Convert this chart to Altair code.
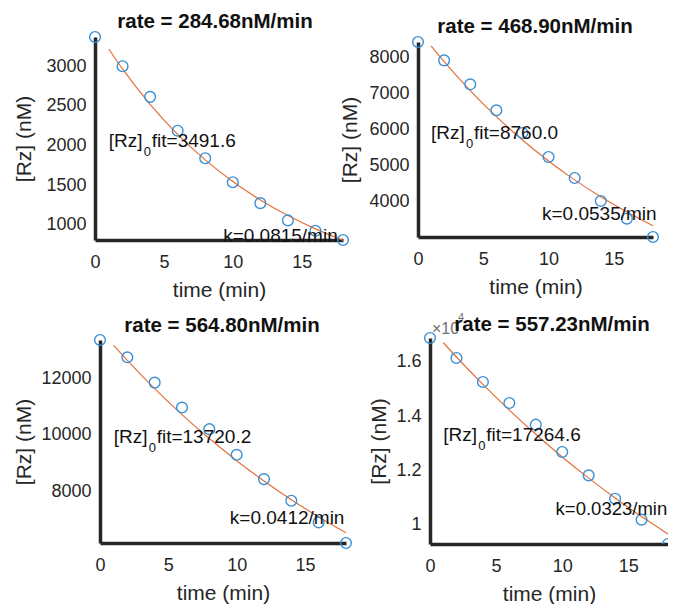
import altair as alt
import pandas as pd

# ---------------- data ----------------
time_points = [0, 2, 4, 6, 8, 10, 12, 14, 16, 18]
rz_panel1 = [3369, 3000, 2614, 2187, 1839, 1537, 1273, 1055, 925, 808]
rz_panel2 = [8414, 7908, 7246, 6529, 5903, 5241, 4662, 4028, 3540, 3034]
rz_panel3 = [13353, 12741, 11847, 10965, 10200, 9294, 8435, 7671, 6906, 6176]
rz_panel4 = [16885, 16148, 15262, 14487, 13688, 12680, 11819, 10958, 10184, 9287]

fit_time = [1, 2, 4, 6, 8, 10, 12, 14, 16, 18]
fit_panel1 = [3218, 2966, 2520, 2141, 1819, 1546, 1313, 1116, 948, 805]
fit_panel2 = [8304, 7871, 7073, 6355, 5710, 5131, 4610, 4142, 3722, 3344]
fit_panel3 = [13166, 12635, 11636, 10716, 9868, 9087, 8368, 7706, 7097, 6536]
fit_panel4 = [16716, 16185, 15172, 14223, 13333, 12499, 11717, 10984, 10297, 9653]

titles = ["rate = 284.68nM/min", "rate = 468.90nM/min",
          "rate = 564.80nM/min", "rate = 557.23nM/min"]
fit_values = ["fit=3491.6", "fit=8760.0", "fit=13720.2", "fit=17264.6"]
k_labels = ["k=0.0815/min", "k=0.0535/min", "k=0.0412/min", "k=0.0323/min"]

x_ticks = [0, 5, 10, 15]
y_ticks = [[1000, 1500, 2000, 2500, 3000],
           [4000, 5000, 6000, 7000, 8000],
           [8000, 10000, 12000],
           [10000, 12000, 14000, 16000]]

# annotation anchor points (time, [Rz])
fit_label_t = [1, 1, 1, 1]
fit_label_rz = [1981, 5749, 9727, 13070]
k_label_t = [9.3, 9.5, 9.5, 9.5]
k_label_rz = [786, 3495, 6860, 10340]

# ---------------- styling / layout ----------------
FONT = "Liberation Sans"
BLUE = "#3a8fd4"
ORANGE = "#e3703a"
AX = "#262626"

# per-panel cell size, pixel ranges, axis offsets, title placement
cells = [
    dict(w=251, h=203, xr=[0, 248], yr=[203, 0], xoff=0, yoff=0, xtp=8,
         ytx=-65, tx=120, ty=-9, clip=False, kfs=19),
    dict(w=250, h=203, xr=[0, 235], yr=[200, 5], xoff=-3, yoff=0, xtp=8,
         ytx=-62, tx=117, ty=-4, clip=False, kfs=19),
    dict(w=251, h=213, xr=[5, 251], yr=[212, 9], xoff=-1, yoff=-5, xtp=8,
         ytx=-70, tx=127, ty=1, clip=False, kfs=19),
    dict(w=250, h=213, xr=[12, 250], yr=[213, 7], xoff=0, yoff=-12, xtp=8,
         ytx=-45, tx=134, ty=0, clip=True, kfs=18.5),
]

all_rz = [rz_panel1, rz_panel2, rz_panel3, rz_panel4]
all_fit = [fit_panel1, fit_panel2, fit_panel3, fit_panel4]


def panel(i):
    c = cells[i]
    vals = all_rz[i]
    pts = pd.DataFrame({"t": time_points, "rz": vals})
    fit = pd.DataFrame({"t": fit_time, "rz": all_fit[i]})

    xs = alt.Scale(domain=[0, 18], range=c["xr"], nice=False, zero=False)
    ys = alt.Scale(domain=[min(vals), max(vals)], range=c["yr"], nice=False, zero=False)

    xaxis = alt.Axis(values=x_ticks, title="time (min)", offset=c["xoff"], grid=False,
                     ticks=False, labelPadding=13, titlePadding=c["xtp"], labelFlush=False,
                     labelOverlap=False, domainColor=AX, domainWidth=3.5,
                     labelFontSize=18, titleFontSize=21, labelColor=AX, titleColor=AX,
                     titleFontWeight="normal", labelFont=FONT, titleFont=FONT)
    yargs = dict(values=y_ticks[i], title="[Rz] (nM)", offset=c["yoff"], grid=False,
                 ticks=False, labelPadding=9, labelFlush=False,
                 labelOverlap=False, domainColor=AX, domainWidth=3.5,
                 labelFontSize=18, titleFontSize=21, labelColor=AX, titleColor=AX,
                 titleFontWeight="normal", labelFont=FONT, titleFont=FONT,
                 titleX=c["ytx"], titleBaseline="alphabetic")
    if i == 3:
        yargs["labelExpr"] = "format(datum.value / 10000, '.2~g')"
    else:
        yargs["format"] = "d"
    yaxis = alt.Axis(**yargs)

    X = alt.X("t:Q", scale=xs, axis=xaxis)
    Y = alt.Y("rz:Q", scale=ys, axis=yaxis)

    line = alt.Chart(fit).mark_line(color=ORANGE, strokeWidth=1.2, clip=c["clip"],
                                    interpolate="monotone").encode(x=X, y=Y)
    points = alt.Chart(pts).mark_point(shape="circle", filled=False, color=BLUE,
                                       size=115, strokeWidth=1.4, opacity=1,
                                       clip=c["clip"]).encode(x=X, y=Y)

    ann = pd.DataFrame({"t": [fit_label_t[i]], "rz": [fit_label_rz[i]],
                        "a": ["[Rz]"], "b": ["0"], "c": [fit_values[i]]})
    kdf = pd.DataFrame({"t": [k_label_t[i]], "rz": [k_label_rz[i]], "k": [k_labels[i]]})

    txt_kw = dict(align="left", baseline="alphabetic", font=FONT, color="#111111")
    t1 = alt.Chart(ann).mark_text(fontSize=19, **txt_kw).encode(x=X, y=Y, text="a:N")
    t2 = alt.Chart(ann).mark_text(fontSize=13, dx=35, dy=9, **txt_kw).encode(x=X, y=Y, text="b:N")
    t3 = alt.Chart(ann).mark_text(fontSize=19, dx=43, **txt_kw).encode(x=X, y=Y, text="c:N")
    t4 = alt.Chart(kdf).mark_text(fontSize=c["kfs"], **txt_kw).encode(x=X, y=Y, text="k:N")

    layers = [line, points, t1, t2, t3, t4]

    if i == 3:
        ex = pd.DataFrame({"t": [0], "rz": [max(vals)], "m": ["×10"], "e": ["4"]})
        e1 = alt.Chart(ex).mark_text(fontSize=16, dx=2, dy=-4, align="left",
                                     baseline="alphabetic", font=FONT,
                                     color="#707070").encode(x=X, y=Y, text="m:N")
        e2 = alt.Chart(ex).mark_text(fontSize=11, dx=28, dy=-17, align="left",
                                     baseline="alphabetic", font=FONT,
                                     color="#707070").encode(x=X, y=Y, text="e:N")
        layers += [e1, e2]

    tdf = pd.DataFrame({"title": [titles[i]]})
    title = alt.Chart(tdf).mark_text(fontSize=20.5, fontWeight="bold", font=FONT,
                                     color="#111111", align="center",
                                     baseline="alphabetic").encode(
        x=alt.value(c["tx"]), y=alt.value(c["ty"]), text="title:N")
    layers.append(title)

    return alt.layer(*layers).properties(width=c["w"], height=c["h"])


chart = alt.concat(
    panel(0), panel(1), panel(2), panel(3),
    columns=2, spacing={"row": 91, "column": 72}, bounds="flush", align="each",
).properties(
    padding={"left": 5, "top": 4, "right": 0, "bottom": 0},
    background="white",
).configure_view(stroke=None)

chart.save("out.html", embed_options={"renderer": "svg", "actions": False})
